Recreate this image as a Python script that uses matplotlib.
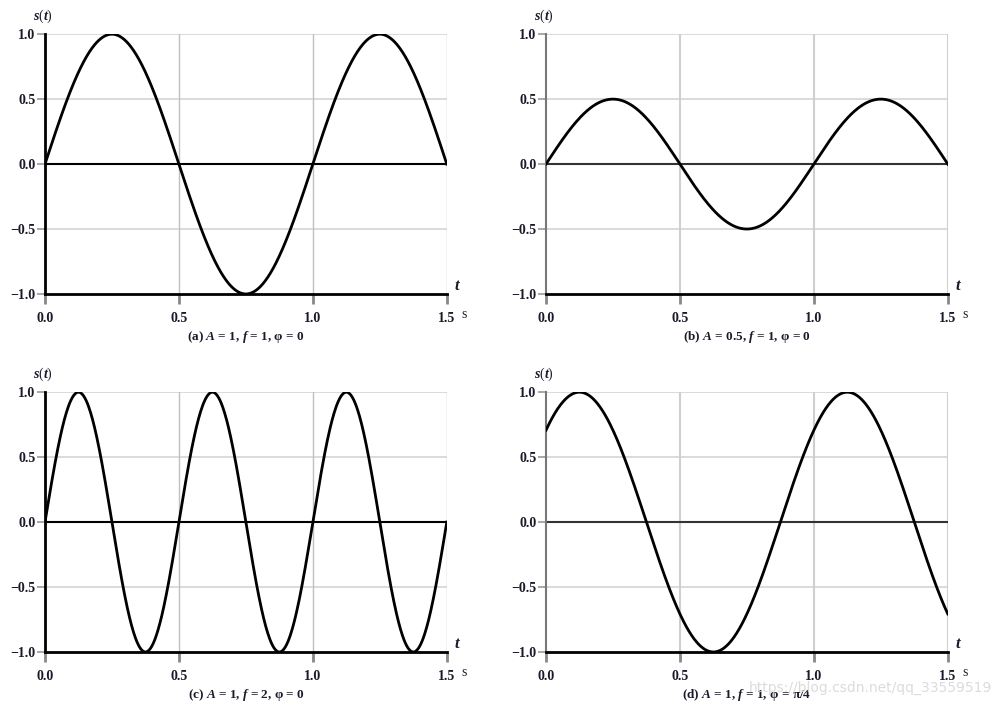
import numpy as np
import matplotlib.pyplot as plt

plt.rcParams['font.family'] = ['Liberation Serif', 'DejaVu Serif']
plt.rcParams['mathtext.fontset'] = 'custom'
plt.rcParams['mathtext.it'] = 'Liberation Serif:italic:bold'
plt.rcParams['mathtext.rm'] = 'Liberation Serif:bold'

# sinusoid parameters read from the captions
panel_ids = ['a', 'b', 'c', 'd']
amps = [1, 0.5, 1, 1]
freqs = [1, 1, 2, 1]
phases = [0, 0, 0, np.pi / 4]
phase_text = ['0', '0', '0', 'π/4']
amp_text = ['1', '0.5', '1', '1']

xticks = [0.0, 0.5, 1.0, 1.5]
xtick_labels = ['0.0', '0.5', '1.0', '1.5']
yticks = [-1.0, -0.5, 0.0, 0.5, 1.0]
ytick_labels = ['\u22121.0', '\u22120.5', '0.0', '0.5', '1.0']

fig = plt.figure(figsize=(10.02, 7.06), dpi=100)

lefts = [0.0449, 0.5449, 0.0449, 0.5449]
bottoms = [0.5836, 0.5836, 0.0765, 0.0765]
W, H = 0.401, 0.368

t = np.linspace(0, 1.5, 600)

for i in range(4):
    ax = fig.add_axes([lefts[i], bottoms[i], W, H])
    s = amps[i] * np.sin(2 * np.pi * freqs[i] * t + phases[i])
    right = i % 2 == 1
    axis_col = '#777777' if right else 'black'

    for yv in [-0.5, 0.5, 1.0]:
        ax.axhline(yv, color='#d4d4d4', lw=1.2, zorder=1)
    for xv in [0.5, 1.0, 1.5]:
        ax.axvline(xv, color='#cfcfcf' if right else '#c0c0c0', lw=1.5 if right else 1.0, zorder=1)
    ax.axhline(0, color='#333333' if right else 'black', lw=1.5, zorder=2)

    ax.plot(t, s, color='black', lw=2.0, zorder=3)

    ax.set_xlim(0, 1.5)
    ax.set_ylim(-1, 1)
    ax.set_xticks(xticks)
    ax.set_xticklabels(xtick_labels)
    ax.set_yticks(yticks)
    ax.set_yticklabels(ytick_labels)
    ax.tick_params(axis='both', labelsize=10, colors='#222233', length=6, width=1.5, direction='out', pad=3)
    ax.tick_params(axis='x', colors='#888888', labelcolor='#1a1a2a', length=7, width=2, pad=6)
    ax.tick_params(axis='y', colors='#999999', labelcolor='#1a1a2a', width=1.2, pad=1)
    for lab in ax.get_xticklabels() + ax.get_yticklabels():
        lab.set_fontweight('bold')

    for sp in ['top', 'right']:
        ax.spines[sp].set_visible(False)
    ax.spines['left'].set_color(axis_col)
    ax.spines['left'].set_linewidth(2.0 if not right else 1.5)
    ax.spines['bottom'].set_color('black')
    ax.spines['bottom'].set_linewidth(2.0)

    ax.text(-0.005, 1.07, '$s$($t$)', transform=ax.transAxes, fontsize=10, ha='center', va='center', color='#1a1a2a')
    ax.text(1.018, 0.0, '$t$', transform=ax.transAxes, fontsize=12, ha='left', va='bottom', color='#1a1a2a')
    ax.text(1.037, -0.054, 's', transform=ax.transAxes, fontsize=10, ha='left', va='top', color='#1a1a2a')
    cap = '(%s) $A$ = %s, $f$ = %d, φ = %s' % (panel_ids[i], amp_text[i], freqs[i], phase_text[i])
    ax.text(0.5, -0.135, cap, transform=ax.transAxes, fontsize=9.5, ha='center', va='top', color='#1a1a2a',
            fontweight='bold')

fig.text(0.99, 0.025, 'https://blog.csdn.net/qq_33559519', ha='right', va='center', fontsize=10,
         color='#d8d8d8', family='DejaVu Sans', alpha=0.9)

fig.savefig('out.png', dpi=100)
